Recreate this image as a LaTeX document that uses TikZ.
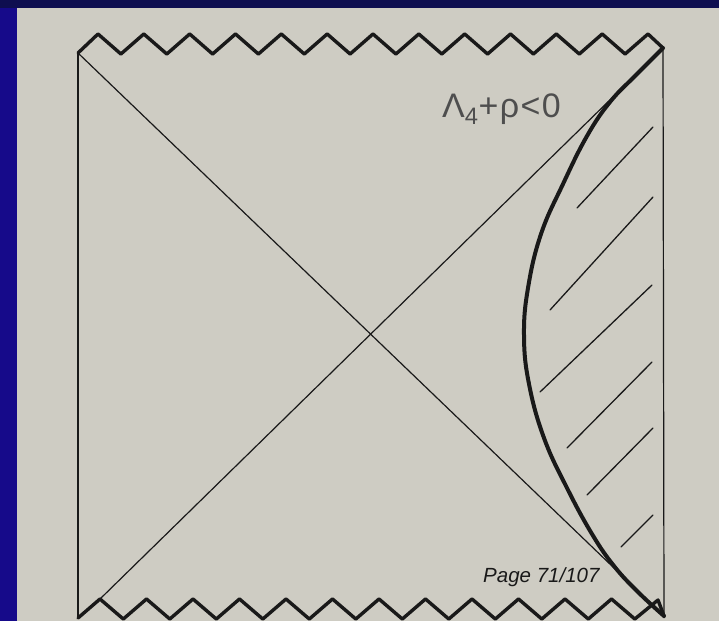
\documentclass[tikz,border=0pt]{standalone}
\usepackage{fontspec}
\setmainfont{Liberation Sans}
\definecolor{bgray}{RGB}{206,204,195}
\definecolor{bandblue}{RGB}{22,10,138}
\definecolor{bandnavy}{RGB}{14,14,80}
\definecolor{inkgray}{RGB}{78,78,78}
\definecolor{ink}{RGB}{25,25,25}
\begin{document}
\begin{tikzpicture}[x=1pt,y=-1pt,
  thinline/.style={draw=ink,line width=1.2pt},
  zig/.style={draw=ink,line width=3.4pt,line join=round,line cap=round},
  wall/.style={draw=ink,line width=4pt,line cap=round,line join=round},
  hatch/.style={draw=ink,line width=1.3pt,line cap=round}]
\useasboundingbox (0,0) rectangle (719,621);
% background bands
\fill[bandblue] (0,0) rectangle (719,621);
\fill[bandnavy] (0,0) rectangle (719,8);
\fill[bgray] (17,8) rectangle (719,621);
% corners
\coordinate (TL) at (78,53);
\coordinate (TR) at (663,48);
\coordinate (BL) at (78,618);
\coordinate (BR) at (664,616);
\coordinate (BLp) at (100,599);
% vertical edges
\draw[thinline] (TL) -- (BL);
\draw[thinline] (TR) -- (664,618);
% diagonals
\draw[thinline] (TL) -- (BR);
\draw[thinline] (BLp) -- (TR);
% top zigzag
\draw[zig] (TL)
  -- (98,34) -- (120.9,54) -- (143.8,34) -- (166.8,54) -- (189.7,34) -- (212.6,54)
  -- (235.5,34) -- (258.4,54) -- (281.3,34) -- (304.3,54) -- (327.2,34) -- (350.1,54)
  -- (373,34) -- (395.9,54) -- (418.8,34) -- (441.8,54) -- (464.7,34) -- (487.6,54)
  -- (510.5,34) -- (533.4,54) -- (556.3,34) -- (579.3,54) -- (602.2,34) -- (625.1,54)
  -- (648,34) -- (TR);
% bottom zigzag
\draw[zig] (BL)
  -- (100,599) -- (123.3,619) -- (146.5,599) -- (169.8,619) -- (193,599) -- (216.3,619)
  -- (239.5,599) -- (262.8,619) -- (286,599) -- (309.3,619) -- (332.5,599) -- (355.8,619)
  -- (379,599) -- (402.3,619) -- (425.5,599) -- (448.8,619) -- (472,599) -- (495.3,619)
  -- (518.5,599) -- (541.8,619) -- (565,599) -- (588.3,619) -- (611.5,599) -- (634.8,619)
  -- (658,600) -- (BR);
% boundary curve
\draw[wall] plot[smooth,tension=0.7] coordinates {
  (663,48) (636,75) (610,102) (587,136) (563,184) (541,234) (528,288) (524,336)
  (529,384) (544,438) (567,488) (592,534) (614,566) (638,592) (664,616)};
% hatching
\draw[hatch] (577,208) -- (653,127);
\draw[hatch] (550,310) -- (653,197);
\draw[hatch] (540,392) -- (652,285);
\draw[hatch] (567,448) -- (652,362);
\draw[hatch] (587,495) -- (653,428);
\draw[hatch] (621,547) -- (653,515);
% labels
\node[anchor=base west,inner sep=0pt,text=inkgray,font=\fontsize{34}{34}\selectfont\addfontfeature{LetterSpace=4}] (lab) at (442,117) {Λ\textsubscript{4}+ρ<0};
\node[anchor=base west,inner sep=0pt,text=ink,font=\fontsize{20.5}{20.5}\selectfont\itshape] (page) at (483,582) {Page 71/107};
\end{tikzpicture}
\end{document}
